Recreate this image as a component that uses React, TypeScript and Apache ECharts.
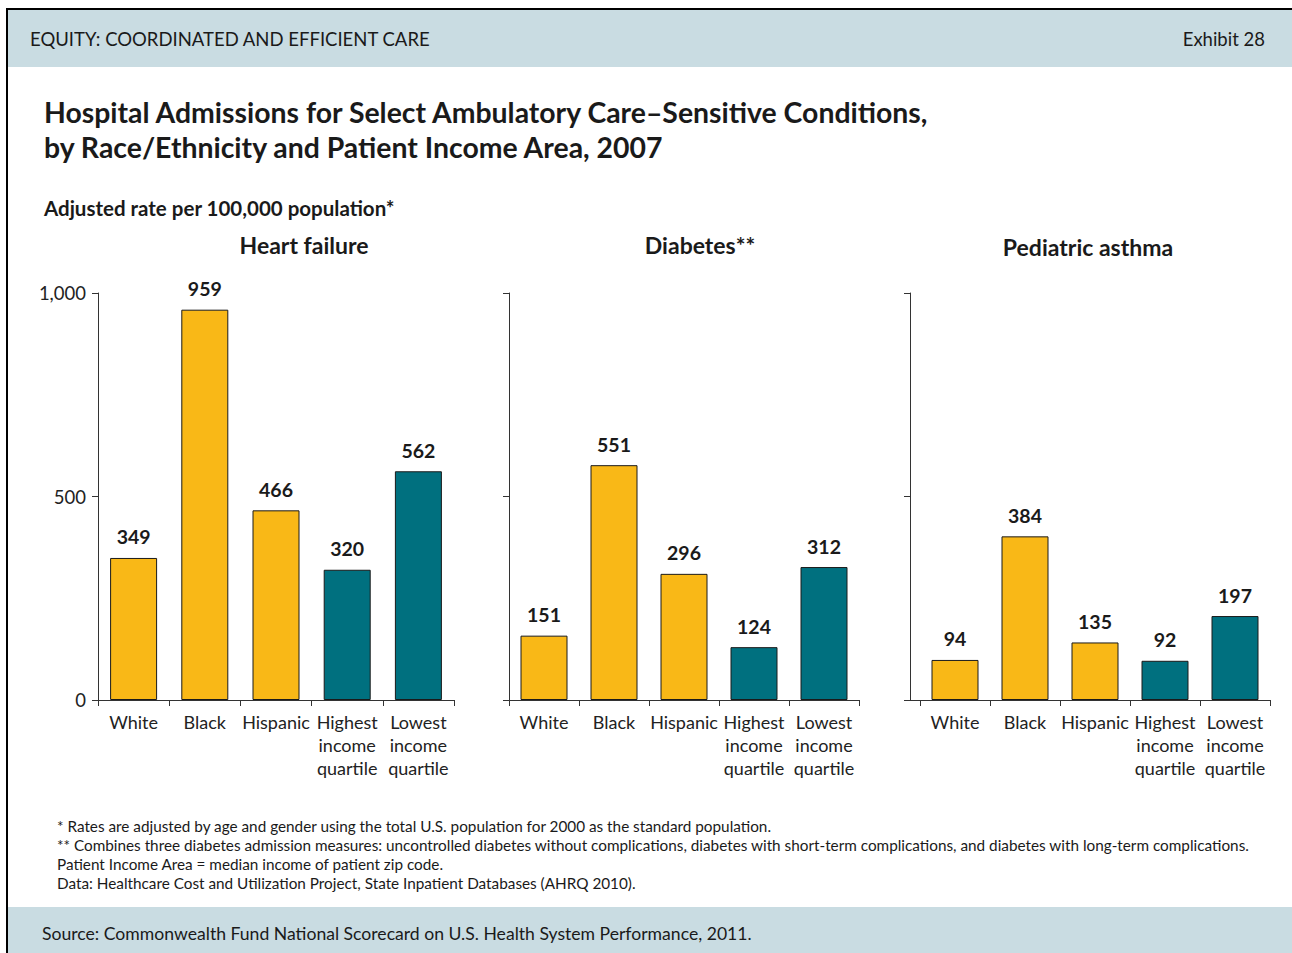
import React, { useEffect, useRef } from "react";
import * as echarts from "echarts";

const categories = ["White", "Black", "Hispanic", "Highest\nincome\nquartile", "Lowest\nincome\nquartile"];
const groupColorIndex = [0, 0, 0, 1, 1];
const heartFailure = [349, 959, 466, 320, 562];
const diabetes = [151, 551, 296, 124, 312];
const pediatricAsthma = [94, 384, 135, 92, 197];
const panelTitles = ["Heart failure", "Diabetes**", "Pediatric asthma"];
const footnotes = [
  "* Rates are adjusted by age and gender using the total U.S. population for 2000 as the standard population.",
  "** Combines three diabetes admission measures: uncontrolled diabetes without complications, diabetes with short-term complications, and diabetes with long-term complications.",
  "Patient Income Area = median income of patient zip code.",
  "Data: Healthcare Cost and Utilization Project, State Inpatient Databases (AHRQ 2010).",
];

const FONT = "Lato";
const YELLOW = "#F9B817";
const TEAL = "#00707F";
const BAND = "#C9DCE2";
const INK = "#1a1a1a";

export default function App() {
  const ref = useRef<HTMLDivElement>(null);
  useEffect(() => {
    if (!ref.current) return;
    const chart = echarts.init(ref.current, undefined, { renderer: "svg" });
    const colors = [YELLOW, TEAL];
    const grids = [
      { left: 98, top: 293, width: 356, height: 407 },
      { left: 509, top: 293, width: 350, height: 407 },
      { left: 920, top: 293, width: 350, height: 407 },
    ];
    const seriesData = [heartFailure, diabetes, pediatricAsthma];
    const yMax = [1000, 955, 955];
    const yOffset = [0, 0, 10];

    const xAxes = grids.map((_, i) => ({
      type: "category" as const,
      gridIndex: i,
      data: categories,
      boundaryGap: true,
      axisLine: { lineStyle: { color: "#333", width: 1 } },
      axisTick: { show: true, length: 6, alignWithLabel: false, lineStyle: { color: "#333" } },
      axisLabel: { interval: 0, fontFamily: FONT, fontSize: 18, lineHeight: 23, color: "#222", margin: 10 },
    }));
    const yAxes = grids.map((_, i) => ({
      type: "value" as const,
      gridIndex: i,
      min: 0,
      max: yMax[i],
      interval: yMax[i] / 2,
      offset: yOffset[i],
      splitLine: { show: false },
      axisLine: { show: true, lineStyle: { color: "#333", width: 1 } },
      axisTick: { show: true, length: 6, lineStyle: { color: "#333" } },
      axisLabel: {
        show: i === 0,
        fontFamily: FONT,
        fontSize: 18.5,
        color: "#222",
        margin: 12,
        formatter: (v: number) => v.toLocaleString("en-US"),
      },
    }));
    const series = seriesData.map((d, i) => ({
      type: "bar" as const,
      xAxisIndex: i,
      yAxisIndex: i,
      barWidth: 47,
      data: d.map((v, j) => ({
        value: v,
        itemStyle: { color: colors[groupColorIndex[j]], borderColor: INK, borderWidth: 1 },
      })),
      label: {
        show: true,
        position: "top" as const,
        distance: 11,
        fontFamily: FONT,
        fontWeight: "bold" as const,
        fontSize: 19.5,
        color: INK,
      },
    }));

    const titleCenters = [304, 700, 1088];
    const titleYs = [245, 245, 247];

    const graphic: any[] = [
      { type: "rect", shape: { x: 8, y: 10, width: 1284, height: 57 }, style: { fill: BAND } },
      { type: "rect", shape: { x: 8, y: 907, width: 1284, height: 46 }, style: { fill: BAND } },
      { type: "line", shape: { x1: 6, y1: 9, x2: 1292, y2: 9 }, style: { stroke: "#000", lineWidth: 2 } },
      { type: "line", shape: { x1: 7, y1: 8, x2: 7, y2: 953 }, style: { stroke: "#000", lineWidth: 2 } },
      { type: "line", shape: { x1: 904, y1: 700.5, x2: 920, y2: 700.5 }, style: { stroke: "#333", lineWidth: 1 } },
      {
        type: "text", x: 30, y: 39,
        style: { text: "EQUITY: COORDINATED AND EFFICIENT CARE", fontFamily: FONT, fontSize: 18.5, fill: INK, textVerticalAlign: "middle" },
      },
      {
        type: "text", x: 1265, y: 39,
        style: { text: "Exhibit 28", fontFamily: FONT, fontSize: 18.5, fill: INK, textAlign: "right", textVerticalAlign: "middle" },
      },
      {
        type: "text", x: 44, y: 112,
        style: { text: "Hospital Admissions for Select Ambulatory Care–Sensitive Conditions,", fontFamily: FONT, fontWeight: "bold", fontSize: 28.4, fill: INK, textVerticalAlign: "middle" },
      },
      {
        type: "text", x: 44, y: 147,
        style: { text: "by Race/Ethnicity and Patient Income Area, 2007", fontFamily: FONT, fontWeight: "bold", fontSize: 28.4, fill: INK, textVerticalAlign: "middle" },
      },
      {
        type: "text", x: 44, y: 208,
        style: { text: "Adjusted rate per 100,000 population*", fontFamily: FONT, fontWeight: "bold", fontSize: 20.5, fill: INK, textVerticalAlign: "middle" },
      },
      ...panelTitles.map((t, i) => ({
        type: "text", x: titleCenters[i], y: titleYs[i],
        style: { text: t, fontFamily: FONT, fontWeight: "bold", fontSize: 23, fill: INK, textAlign: "center", textVerticalAlign: "middle" },
      })),
      ...footnotes.map((t, i) => ({
        type: "text", x: 57, y: 826 + i * 19,
        style: { text: t, fontFamily: FONT, fontSize: 15.3, fill: INK, textVerticalAlign: "middle" },
      })),
      {
        type: "text", x: 42, y: 933,
        style: { text: "Source: Commonwealth Fund National Scorecard on U.S. Health System Performance, 2011.", fontFamily: FONT, fontSize: 17.6, fill: INK, textVerticalAlign: "middle" },
      },
    ];

    chart.setOption({
      animation: false,
      backgroundColor: "#ffffff",
      textStyle: { fontFamily: FONT },
      grid: grids,
      xAxis: xAxes,
      yAxis: yAxes,
      series,
      graphic,
    });
    return () => chart.dispose();
  }, []);
  return <div ref={ref} style={{ position: "absolute", left: 0, top: 0, width: 1292, height: 953 }} />;
}
